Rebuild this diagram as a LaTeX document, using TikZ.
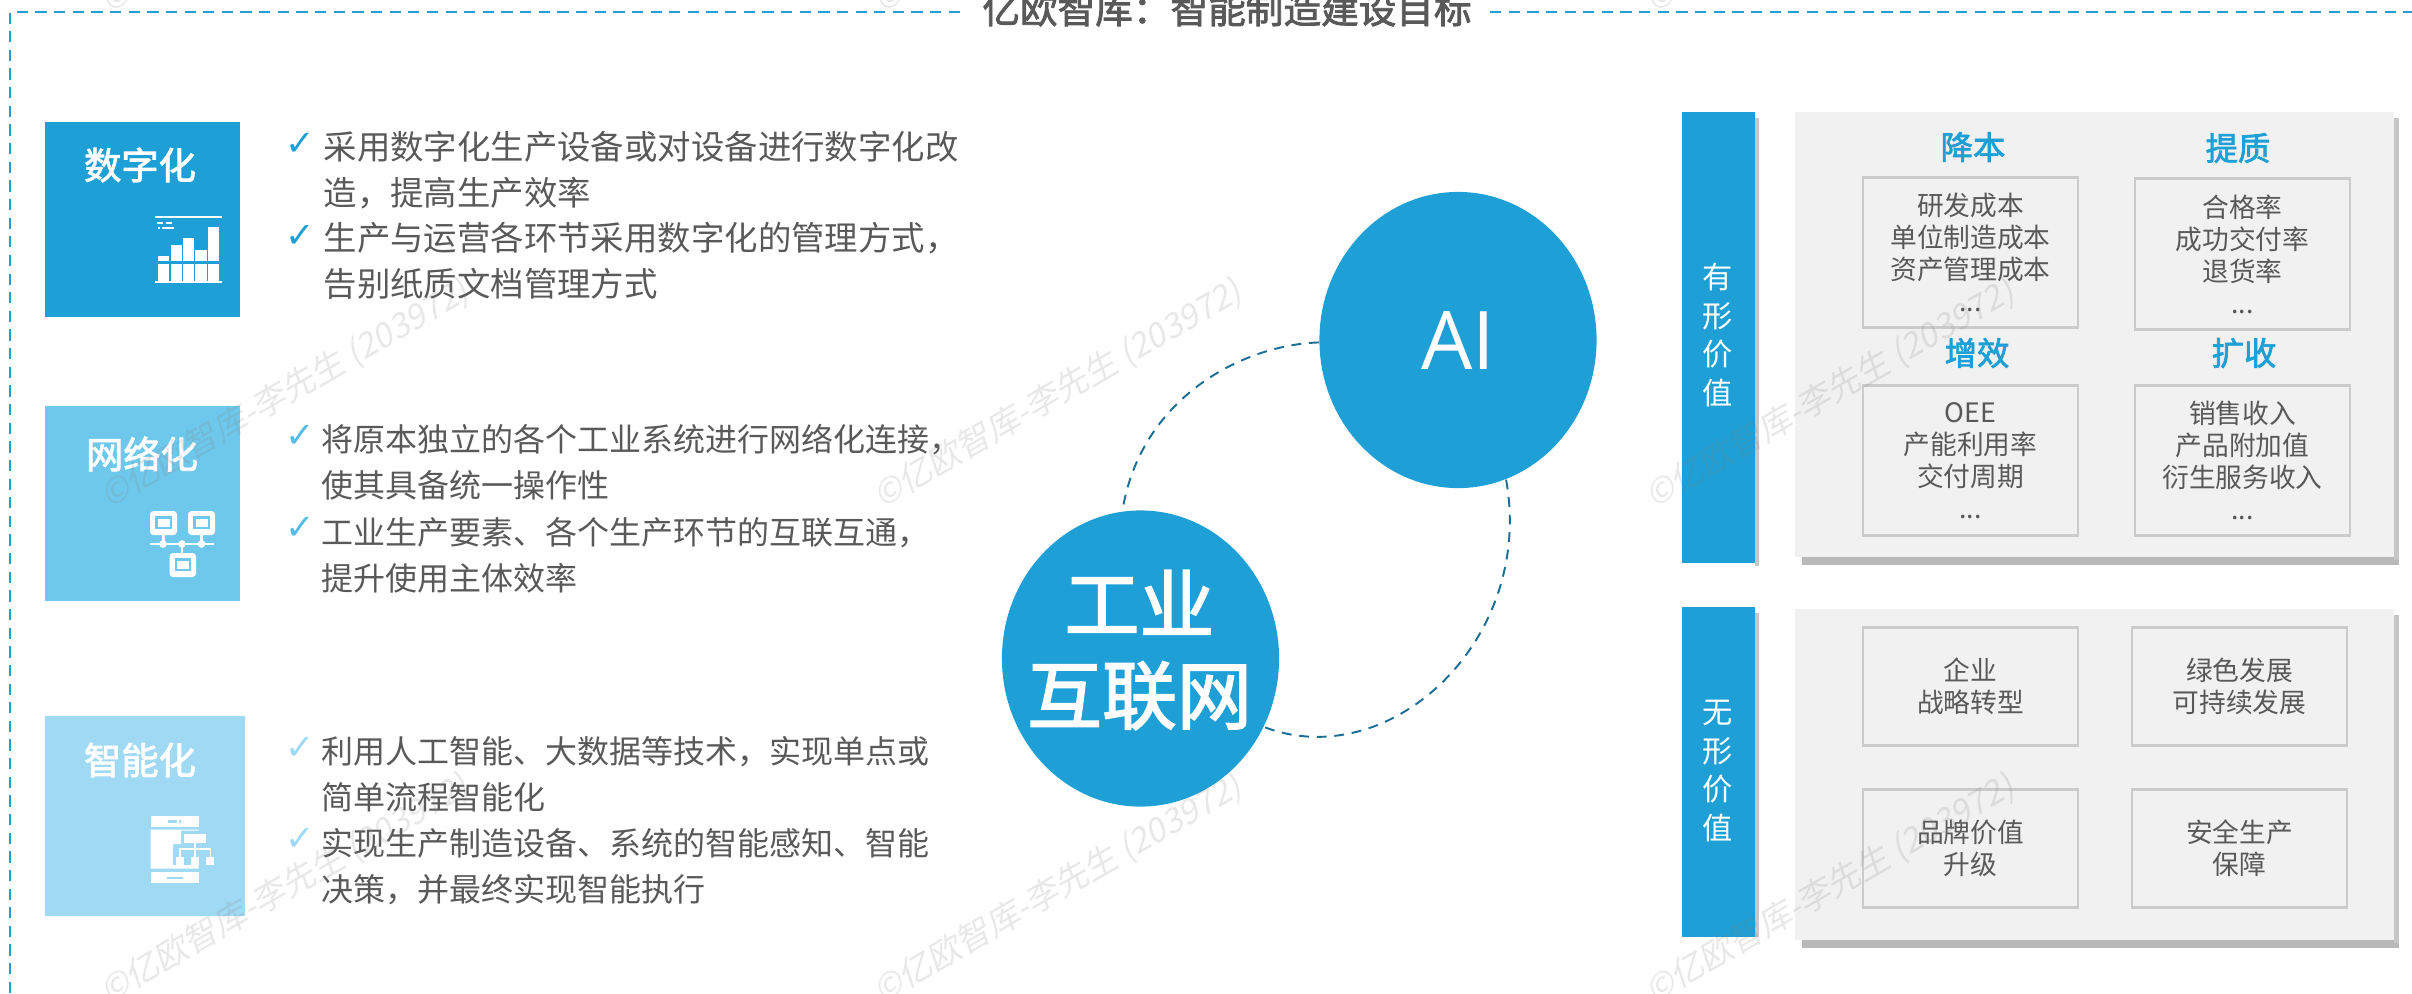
\documentclass[tikz,border=0pt]{standalone}
\usepackage{fontspec}
\setmainfont{Noto Sans CJK SC}
\newfontfamily\medfont[FakeBold=2.2]{Noto Sans CJK SC}
\newfontfamily\markfont{DejaVu Sans}
\newfontfamily\latinfont{Open Sans}
\newfontfamily\wmfont[FakeSlant=0.2]{Noto Sans CJK SC}
\usetikzlibrary{shapes.geometric}
\definecolor{blueA}{HTML}{1E9FD5}
\definecolor{blueB}{HTML}{6EC8EC}
\definecolor{blueC}{HTML}{A0D9F3}
\definecolor{dashblue}{HTML}{1A6E96}
\definecolor{textgray}{HTML}{595959}
\definecolor{panelgray}{HTML}{F1F1F1}
\definecolor{edgegray}{HTML}{CBCBCB}
\tikzset{
  px/.style={x=0.01cm,y=-0.01cm},
  boxtitle/.style={text=white,inner sep=0pt,font=\medfont\fontsize{10.6pt}{12pt}\selectfont},
  itemtext/.style={text=textgray,inner sep=0pt,anchor=west,align=left,font=\fontsize{9.1pt}{13.1pt}\selectfont},
  tick/.style={inner sep=0pt,font=\markfont\fontsize{10pt}{10pt}\selectfont},
  framedash/.style={draw=blueA,line width=0.8pt,dash pattern=on 3.2pt off 2.1pt},
  linkline/.style={draw=dashblue,line width=0.55pt,dash pattern=on 2.8pt off 2.2pt},
  bubble/.style={ellipse,fill=blueA,text=white,inner sep=0pt,minimum width=2.77cm,minimum height=2.96cm},
  valuetext/.style={text=white,inner sep=0pt,align=center,font=\fontsize{8.6pt}{11.0pt}\selectfont},
  headtext/.style={text=blueA,inner sep=0pt,font=\medfont\fontsize{9.2pt}{11pt}\selectfont},
  smallbox/.style={fill=panelgray,draw=edgegray,line width=0.45pt,text=textgray,align=center,inner sep=0pt,font=\fontsize{7.6pt}{9.1pt}\selectfont},
  edgebar/.style={draw=edgegray,line width=0.85pt},
  watermark/.style={rotate=30,text=gray,opacity=0.18,inner sep=0pt,font=\wmfont\fontsize{9.6pt}{10pt}\selectfont}
}
\begin{document}
\begin{tikzpicture}[px]
\useasboundingbox (0,0) rectangle (2412,993);
\clip (0,0) rectangle (2412,993);

%frame
\node (title) at (1227,9) [inner sep=0pt,text=textgray,font=\medfont\fontsize{10.7pt}{12pt}\selectfont] {亿欧智库：智能制造建设目标};
\coordinate (frametl) at (10,12);
\coordinate (frameb) at (10,993);
\coordinate (framegapl) at (960,12);
\coordinate (framegapr) at (1490,12);
\coordinate (framer) at (2412,12);
\draw [framedash] (frameb) -- (frametl) -- (framegapl);
\draw [framedash] (framegapr) -- (framer);

%digital
\fill [blueA] (45,122) rectangle (240,317);
\node (digital) at (140,165) [boxtitle] {数字化};
\fill [white] (155,215.5) rectangle (222,217.5);
\fill [white] (157,222) rectangle (163,224);
\fill [white] (166,222) rectangle (172,224);
\fill [white] (158,227) rectangle (160,228.5);
\fill [white] (162,227) rectangle (174,228.5);
\fill [white] (158,256) rectangle (169,261);
\fill [white] (170.5,245) rectangle (182,261);
\fill [white] (183,238) rectangle (194,261);
\fill [white] (195,250) rectangle (206.5,261);
\fill [white] (207.5,227) rectangle (219,261);
\fill [white] (158,264) rectangle (169,281);
\fill [white] (170.5,264) rectangle (182,281);
\fill [white] (183,264) rectangle (194,281);
\fill [white] (195,264) rectangle (206.5,281);
\fill [white] (207.5,264) rectangle (219,281);
\fill [white] (155,280.5) rectangle (222,282.5);

\node (digitaltick1) at (300,144) [tick,text=blueA] {✓};
\node (digitaltext1) at (323,170) [itemtext,font=\fontsize{9.5pt}{13.1pt}\selectfont] {采用数字化生产设备或对设备进行数字化改\\造，提高生产效率};
\node (digitaltick2) at (300,236) [tick,text=blueA] {✓};
\node (digitaltext2) at (323,261) [itemtext,font=\fontsize{9.5pt}{13.1pt}\selectfont] {生产与运营各环节采用数字化的管理方式，\\告别纸质文档管理方式};

%network
\fill [blueB] (45,406) rectangle (240,601);
\node (network) at (142,454) [boxtitle] {网络化};
\fill [white,rounded corners=1pt] (150,511) rectangle (177,535);
\fill [blueB] (155,516) rectangle (172,529);
\fill [white] (157.5,518.5) rectangle (169.5,526.5);
\fill [white,rounded corners=1pt] (188,511) rectangle (215,535);
\fill [blueB] (193,516) rectangle (210,529);
\fill [white] (195.5,518.5) rectangle (207.5,526.5);
\fill [white] (162,535) rectangle (165,544);
\fill [white] (200,535) rectangle (203,544);
\fill [white] (150,543) rectangle (214,545);
\fill [white] (163,544) circle (3.8);
\fill [white] (182,544) circle (3.8);
\fill [white] (201.5,544) circle (3.8);
\fill [white] (181,544) rectangle (183,553);
\fill [white,rounded corners=1pt] (169.5,553) rectangle (196,577);
\fill [blueB] (174.5,558) rectangle (191,571);
\fill [white] (177,560.5) rectangle (188.5,568.5);

\node (networktick1) at (300,436) [tick,text=blueB!70!blueA] {✓};
\node (networktext1) at (321,462.5) [itemtext] {将原本独立的各个工业系统进行网络化连接，\\使其具备统一操作性};
\node (networktick2) at (300,528) [tick,text=blueB!70!blueA] {✓};
\node (networktext2) at (321,555) [itemtext] {工业生产要素、各个生产环节的互联互通，\\提升使用主体效率};

%smart
\fill [blueC] (45,716) rectangle (245,916);
\node (smart) at (140,760) [boxtitle] {智能化};
\fill [white] (150.5,816) rectangle (198.5,827);
\fill [blueC] (168,820) rectangle (177,822.5);
\fill [blueC] (179,820) rectangle (181,822.5);
\fill [white] (150.5,829.5) -- (198.5,829.5) -- (198.5,830.5) -- (181,830.5) -- (181,844) -- (173,844) -- (173,855) -- (198.5,855) -- (198.5,868.5) -- (150.5,868.5) -- cycle;
\fill [blueC] (173,848) rectangle (198.5,865);
\fill [white] (150.5,872) rectangle (198.5,883);
\fill [blueC] (167,876.5) rectangle (183,879);
\fill [white] (184,834) rectangle (205.5,842.5);
\fill [white] (194,842.5) rectangle (195.5,848);
\fill [white] (179,848) rectangle (211,849.5);
\fill [white] (179,848) rectangle (180.5,857);
\fill [white] (194,848) rectangle (195.5,857);
\fill [white] (209.5,848) rectangle (211,857);
\fill [white] (176,857) rectangle (184,865);
\fill [white] (191,857) rectangle (199,865);
\fill [white] (205.5,857) rectangle (213.5,865);

\node (smarttick1) at (300,748) [tick,text=blueC] {✓};
\node (smarttext1) at (321,774.5) [itemtext] {利用人工智能、大数据等技术，实现单点或\\简单流程智能化};
\node (smarttick2) at (300,839) [tick,text=blueC] {✓};
\node (smarttext2) at (321,866.5) [itemtext] {实现生产制造设备、系统的智能感知、智能\\决策，并最终实现智能执行};

%bubbles
\node (ai) at (1458,340) [bubble,font=\latinfont\fontsize{23pt}{26pt}\selectfont] {AI};
\node (net) at (1140.5,658.5) [bubble] {};
\node (nettext) at (1139.5,650) [inner sep=0pt,text=white,align=center,font=\medfont\fontsize{21.3pt}{25.9pt}\selectfont] {工业\\互联网};
\draw [linkline] (ai.181) .. controls (1240,345) and (1140,400) .. (net.97);
\draw [linkline] (ai.-71) .. controls (1535,640) and (1390,775) .. (net.-29);

%tangible
\fill [gray!45] (1755,118) rectangle (1759,566);
\fill [blueA] (1682,112) rectangle (1755,563);
\node (tangible) at (1718,335) [valuetext] {有\\形\\价\\值};
\fill [gray!55] (1802,557) rectangle (2399,565);
\fill [gray!45] (2394,118) rectangle (2399,560);
\fill [panelgray] (1795,112) rectangle (2394,557);
\node (costhead) at (1973,147) [headtext] {降本};
\node (qualityhead) at (2238,148) [headtext] {提质};
\node (effhead) at (1977,353) [headtext] {增效};
\node (revenuehead) at (2244,353) [headtext] {扩收};
\node (cost) at (1970.5,252.5) [smallbox,minimum width=2.15cm,minimum height=1.49cm] {研发成本\\单位制造成本\\资产管理成本\\...};
\node (quality) at (2242.5,254) [smallbox,minimum width=2.15cm,minimum height=1.49cm] {合格率\\成功交付率\\退货率\\...};
\node (efficiency) at (1970.5,460.5) [smallbox,minimum width=2.15cm,minimum height=1.49cm] {OEE\\产能利用率\\交付周期\\...};
\node (revenue) at (2242.5,460.5) [smallbox,minimum width=2.15cm,minimum height=1.49cm] {销售收入\\产品附加值\\衍生服务收入\\...};
\draw [edgebar] (cost.north west) -- (cost.north east) (cost.south west) -- (cost.south east);
\draw [edgebar] (quality.north west) -- (quality.north east) (quality.south west) -- (quality.south east);
\draw [edgebar] (efficiency.north west) -- (efficiency.north east) (efficiency.south west) -- (efficiency.south east);
\draw [edgebar] (revenue.north west) -- (revenue.north east) (revenue.south west) -- (revenue.south east);

%intangible
\fill [gray!45] (1755,613) rectangle (1759,937);
\fill [blueA] (1682,607) rectangle (1755,937);
\node (intangible) at (1718,771) [valuetext] {无\\形\\价\\值};
\fill [gray!55] (1802,940) rectangle (2399,948);
\fill [gray!45] (2394,615) rectangle (2399,943);
\fill [panelgray] (1795,609) rectangle (2394,940);
\node (strategy) at (1970.5,686.5) [smallbox,minimum width=2.15cm,minimum height=1.17cm] {企业\\战略转型};
\node (green) at (2239.5,686.5) [smallbox,minimum width=2.15cm,minimum height=1.17cm] {绿色发展\\可持续发展};
\node (brand) at (1970.5,848.5) [smallbox,minimum width=2.15cm,minimum height=1.17cm] {品牌价值\\升级};
\node (safety) at (2239.5,848.5) [smallbox,minimum width=2.15cm,minimum height=1.17cm] {安全生产\\保障};
\draw [edgebar] (strategy.north west) -- (strategy.north east) (strategy.south west) -- (strategy.south east);
\draw [edgebar] (green.north west) -- (green.north east) (green.south west) -- (green.south east);
\draw [edgebar] (brand.north west) -- (brand.north east) (brand.south west) -- (brand.south east);
\draw [edgebar] (safety.north west) -- (safety.north east) (safety.south west) -- (safety.south east);

%watermarks
\node (mark1) at (285,-101) [watermark] {©亿欧智库-李先生 (203972)};
\node (mark2) at (1058,-101) [watermark] {©亿欧智库-李先生 (203972)};
\node (mark3) at (1830,-101) [watermark] {©亿欧智库-李先生 (203972)};
\node (mark4) at (285,394) [watermark] {©亿欧智库-李先生 (203972)};
\node (mark5) at (1058,394) [watermark] {©亿欧智库-李先生 (203972)};
\node (mark6) at (1830,394) [watermark] {©亿欧智库-李先生 (203972)};
\node (mark7) at (285,889) [watermark] {©亿欧智库-李先生 (203972)};
\node (mark8) at (1058,889) [watermark] {©亿欧智库-李先生 (203972)};
\node (mark9) at (1830,889) [watermark] {©亿欧智库-李先生 (203972)};
\end{tikzpicture}
\end{document}
